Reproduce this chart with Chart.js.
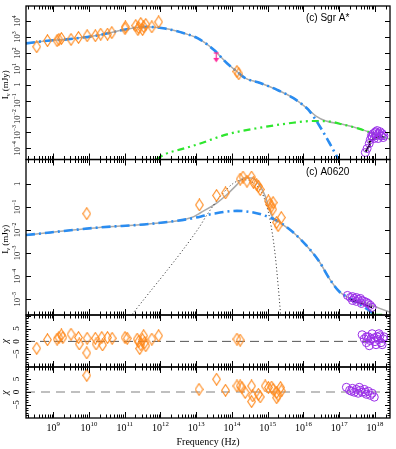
<!DOCTYPE html>
<html>
<head>
<meta charset="utf-8">
<script src="https://cdn.jsdelivr.net/npm/chart.js@4.4.1/dist/chart.umd.min.js"></script>
<style>
  html, body { margin: 0; padding: 0; background: #fff; }
</style>
</head>
<body>
<canvas id="sed" width="396" height="449"></canvas>
<script>
// valores en log10 (frecuencia en Hz, flujo en mJy)
const sgrRadioLogNu = [8.54, 8.84, 9.11, 9.16, 9.23, 9.50, 9.71, 9.95, 10.18, 10.33, 10.52, 10.64, 11.01, 11.02, 11.31, 11.39, 11.45, 11.53, 11.59, 11.50, 11.37, 11.76, 11.95];
const sgrRadioLogI  = [2.39, 2.77, 2.77, 2.85, 2.91, 2.85, 2.97, 3.08, 3.08, 3.18, 3.18, 3.28, 3.53, 3.64, 3.72, 3.60, 3.85, 3.66, 3.79, 3.47, 3.47, 3.64, 3.95];
const sgrIrLogNu = [14.14, 14.19];
const sgrIrLogI  = [0.83, 0.69];
const sgrLimitLogNu = [13.56];
const sgrLimitLogI  = [2.0];
const sgrXrayLogNu = [17.73, 17.78, 17.84, 17.87, 17.92, 17.95, 18.00, 18.03, 18.06, 18.11, 18.14, 18.17, 18.20, 18.23, 18.25, 18.09, 17.98, 17.90, 18.02];
const sgrXrayLogI  = [-4.26, -4.01, -3.69, -3.45, -3.26, -3.07, -3.01, -3.20, -2.88, -3.07, -2.95, -3.20, -3.07, -3.32, -3.20, -3.38, -3.38, -3.20, -2.95];
const sgrXmodelLogNu = [17.74, 17.85, 17.85, 18.01, 18.24];
const sgrXmodelLogI  = [-4.21, -3.84, -3.59, -3.32, -3.30];
const sgrTotalLogNu = [8.24, 8.84, 9.37, 10.29, 11.02, 11.58, 12.13, 12.68, 13.05, 13.50, 13.86, 14.14, 14.37, 14.79, 15.25, 15.71, 16.08, 16.35, 16.63, 17.09, 17.55, 18.01, 18.47];
const sgrTotalLogI  = [2.60, 2.77, 2.85, 3.12, 3.47, 3.64, 3.53, 3.22, 2.91, 2.18, 1.35, 0.83, 0.42, 0.11, -0.31, -0.83, -1.45, -1.97, -2.28, -2.49, -2.76, -3.12, -3.46];
const sgrJetLogNu = [8.24, 8.84, 9.37, 10.29, 11.02, 11.58, 12.13, 12.68, 13.05, 13.50, 13.86, 14.14, 14.37, 14.79, 15.25, 15.71, 16.08, 16.17, 16.45, 16.72, 16.95, 17.05];
const sgrJetLogI  = [2.60, 2.77, 2.85, 3.12, 3.47, 3.64, 3.53, 3.22, 2.91, 2.18, 1.35, 0.83, 0.42, 0.11, -0.31, -0.83, -1.45, -1.66, -2.59, -3.63, -4.57, -5.0];
const sgrAdafLogNu = [11.89, 12.13, 12.59, 13.05, 13.86, 14.79, 15.71, 16.26, 16.72, 17.09, 17.55, 18.01, 18.47];
const sgrAdafLogI  = [-4.69, -4.36, -4.05, -3.74, -3.12, -2.70, -2.39, -2.28, -2.31, -2.49, -2.76, -3.12, -3.46];

const a06OptLogNu = [9.94, 13.09, 13.57, 13.82, 14.23, 14.31, 14.42, 14.55, 14.60, 14.69, 14.74, 14.79, 15.02, 15.06, 15.11, 15.15, 15.14, 15.25, 15.29, 15.38];
const a06OptLogI  = [-1.29, -0.91, -0.50, -0.39, 0.21, 0.30, 0.12, 0.30, 0.07, -0.03, -0.10, -0.24, -0.74, -0.89, -0.96, -0.81, -1.10, -1.67, -1.81, -1.46];
const a06XrayLogNu = [17.23, 17.31, 17.37, 17.42, 17.48, 17.53, 17.59, 17.64, 17.70, 17.76, 17.81, 17.87, 17.92, 17.37, 17.48, 17.62];
const a06XrayLogI  = [-4.84, -4.93, -4.89, -4.97, -4.93, -5.01, -4.97, -5.06, -5.10, -5.14, -5.19, -5.27, -5.36, -5.06, -5.10, -5.19];
const a06XmodelLogNu = [17.28, 17.92];
const a06XmodelLogI  = [-5.00, -5.36];
const a06TotalLogNu = [8.24, 10.29, 11.67, 12.87, 13.13, 13.59, 13.86, 14.14, 14.33, 14.55, 14.79, 14.93, 15.11, 15.34, 15.71, 16.08, 16.45, 16.72, 17.00, 17.28, 17.74, 18.11, 18.47];
const a06TotalLogI  = [-2.22, -1.89, -1.74, -1.46, -1.24, -0.81, -0.46, -0.03, 0.26, 0.26, -0.10, -0.53, -1.38, -1.67, -2.10, -2.67, -3.39, -4.10, -4.67, -4.96, -5.17, -5.39, -5.60];
const a06JetLogNu = [8.24, 10.29, 11.67, 12.87, 13.40, 14.14, 14.69, 15.06, 15.34, 15.71, 16.08, 16.45, 16.72, 17.00, 17.28, 17.74, 17.92, 18.03];
const a06JetLogI  = [-2.22, -1.89, -1.74, -1.50, -1.32, -1.17, -1.27, -1.46, -1.67, -2.10, -2.67, -3.39, -4.10, -4.67, -4.96, -5.39, -5.60, -5.79];
const a06DiskLogNu = [11.21, 13.05, 13.31, 13.68, 14.05, 14.33, 14.60, 14.88, 15.06, 15.20, 15.29, 15.36];
const a06DiskLogI  = [-5.66, -1.96, -1.32, -0.53, 0.04, 0.18, 0.04, -0.53, -1.53, -2.96, -4.38, -5.66];
const a06HardLogNu = [17.87, 18.20];
const a06HardLogI  = [-5.68, -5.68];

// residuos chi
const sgrChiOptLogNu = [8.54, 8.84, 9.11, 9.16, 9.23, 9.27, 9.50, 9.71, 9.73, 9.95, 9.94, 10.18, 10.20, 10.36, 10.38, 10.52, 10.65, 11.01, 11.07, 11.35, 11.39, 11.45, 11.50, 11.56, 11.59, 11.42, 11.53, 11.76, 11.95, 14.14, 14.23];
const sgrChiOpt      = [-2.7, 0.65, 0.9, 1.5, 2.5, 1.5, 2.8, 1.5, -1.0, 1.2, -4.5, 1.2, -1.0, 1.5, -1.4, 1.5, 1.2, 1.5, 1.2, 0.9, -0.1, -1.3, 0.65, -0.5, -1.7, -2.8, 2.2, 0.9, 2.2, 0.9, 0.5];
const sgrChiXLogNu = [17.64, 17.70, 17.76, 17.81, 17.87, 17.92, 17.98, 18.03, 18.09, 18.14, 18.17, 18.23, 18.25, 18.00, 17.84, 18.11, 18.20, 17.76, 17.89, 18.06];
const sgrChiX      = [2.6, 1.0, -0.5, 1.8, 0.3, 3.0, 1.4, -1.3, 0.7, 2.2, -0.5, 1.0, 1.8, -0.1, -1.7, 3.0, -1.3, 1.8, 1.0, 1.8];
const a06ChiOptLogNu = [9.94, 13.08, 13.57, 13.82, 14.14, 14.23, 14.28, 14.37, 14.55, 14.58, 14.55, 14.74, 14.79, 14.93, 15.02, 15.11, 15.15, 15.25, 15.25, 15.29, 15.36, 15.38];
const a06ChiOpt      = [6.4, 1.0, 4.9, 0.65, 2.3, 2.3, 1.7, -0.2, 2.3, -1.5, -3.7, -0.9, -1.9, 2.3, 1.7, 1.9, 1.0, -0.2, -2.2, -1.2, 1.7, 0.4];
const a06ChiXLogNu = [17.20, 17.29, 17.37, 17.42, 17.48, 17.53, 17.59, 17.64, 17.70, 17.76, 17.81, 17.87, 17.92, 17.98, 17.34, 17.56, 17.73];
const a06ChiX      = [1.8, 0.65, 1.4, -0.1, 1.0, -0.5, 0.65, -0.1, 1.0, -0.9, 0.3, -1.3, -0.5, -2.0, 0.3, 1.8, -0.1];

// ejes
const xTickExp = [9, 10, 11, 12, 13, 14, 15, 16, 17, 18];
const sgrTickExp = [-4, -3, -2, -1, 0, 1, 2, 3, 4];
const a06TickExp = [-5, -4, -3, -2, -1, 0];
const chiTicks = [-5, 0, 5];

const ORANGE = '#ff8a1e', PURPLE = '#9a2ee8', BLUE = '#2a8cf0', GRAY = '#aaaaaa', GREEN = '#2ee62e';
const SERIF = '"Liberation Serif", "DejaVu Serif", serif';
const SANS = '"Liberation Sans", Arial, sans-serif';

// rombo alargado como pointStyle
function makeDiamond(color) {
  const c = document.createElement('canvas');
  c.width = 9; c.height = 13;
  const g = c.getContext('2d');
  g.strokeStyle = color; g.lineWidth = 1.1;
  g.beginPath();
  g.moveTo(4.5, 0.7); g.lineTo(8.3, 6.5); g.lineTo(4.5, 12.3); g.lineTo(0.7, 6.5); g.closePath();
  g.stroke();
  return c;
}
// flecha de límite superior
function makeArrow(color) {
  const c = document.createElement('canvas');
  c.width = 7; c.height = 20;
  const g = c.getContext('2d');
  g.strokeStyle = color; g.fillStyle = color; g.lineWidth = 1.2;
  g.beginPath(); g.moveTo(3.5, 10); g.lineTo(3.5, 17); g.stroke();
  g.beginPath(); g.moveTo(0.5, 15); g.lineTo(6.5, 15); g.lineTo(3.5, 19.5); g.closePath(); g.fill();
  g.beginPath(); g.moveTo(1, 10); g.lineTo(6, 10); g.stroke();
  return c;
}
const diamond = makeDiamond(ORANGE);
const arrow = makeArrow('#ff2a9a');

const logPts = (lx, ly) => lx.map((v, i) => ({x: Math.pow(10, v), y: Math.pow(10, ly[i])}));
const chiPts = (lx, ly) => lx.map((v, i) => ({x: Math.pow(10, v), y: ly[i]}));

const xMin = Math.pow(10, 8.24), xMax = Math.pow(10, 18.42);

function pointsSet(data, yAxisID, style, color, r) {
  return {data, yAxisID, pointStyle: style, pointRadius: r, pointBorderColor: color,
    pointBackgroundColor: 'rgba(0,0,0,0)', pointBorderWidth: 1, showLine: false, order: 1};
}
function lineSet(data, yAxisID, color, width, dash, order) {
  return {data, yAxisID, showLine: true, borderColor: color, borderWidth: width,
    borderDash: dash, pointRadius: 0, tension: 0.35, cubicInterpolationMode: 'monotone', order};
}

const datasets = [
  // Sgr A*
  pointsSet(logPts(sgrRadioLogNu, sgrRadioLogI), 'ySgr', diamond, ORANGE, 5),
  pointsSet(logPts(sgrIrLogNu, sgrIrLogI), 'ySgr', diamond, ORANGE, 5),
  pointsSet(logPts(sgrLimitLogNu, sgrLimitLogI), 'ySgr', arrow, '#ff2a9a', 5),
  pointsSet(logPts(sgrXrayLogNu, sgrXrayLogI), 'ySgr', 'circle', PURPLE, 4),
  lineSet(logPts(sgrXmodelLogNu, sgrXmodelLogI), 'ySgr', '#000', 2, [], 2),
  lineSet(logPts(sgrJetLogNu, sgrJetLogI), 'ySgr', BLUE, 2.6, [9, 4, 2, 4], 3),
  lineSet(logPts(sgrAdafLogNu, sgrAdafLogI), 'ySgr', GREEN, 2.2, [7, 4, 2, 4, 2, 4], 3),
  lineSet(logPts(sgrTotalLogNu, sgrTotalLogI), 'ySgr', GRAY, 1.5, [], 5),
  // A0620
  pointsSet(logPts(a06OptLogNu, a06OptLogI), 'yA06', diamond, ORANGE, 5),
  pointsSet(logPts(a06XrayLogNu, a06XrayLogI), 'yA06', 'circle', PURPLE, 4),
  lineSet(logPts(a06XmodelLogNu, a06XmodelLogI), 'yA06', '#000', 2, [], 2),
  lineSet(logPts(a06HardLogNu, a06HardLogI), 'yA06', GREEN, 2.2, [], 3),
  lineSet(logPts(a06JetLogNu, a06JetLogI), 'yA06', BLUE, 2.6, [9, 4, 2, 4], 3),
  lineSet(logPts(a06DiskLogNu, a06DiskLogI), 'yA06', '#222', 1, [1, 2.5], 4),
  lineSet(logPts(a06TotalLogNu, a06TotalLogI), 'yA06', GRAY, 1.5, [], 5),
  // chi
  pointsSet(chiPts(sgrChiOptLogNu, sgrChiOpt), 'yChi1', diamond, ORANGE, 5),
  pointsSet(chiPts(sgrChiXLogNu, sgrChiX), 'yChi1', 'circle', PURPLE, 4),
  lineSet([{x: xMin, y: 0}, {x: xMax, y: 0}], 'yChi1', '#555', 1, [9, 5], 6),
  pointsSet(chiPts(a06ChiOptLogNu, a06ChiOpt), 'yChi2', diamond, ORANGE, 5),
  pointsSet(chiPts(a06ChiXLogNu, a06ChiX), 'yChi2', 'circle', PURPLE, 4),
  lineSet([{x: xMin, y: 0}, {x: xMax, y: 0}], 'yChi2', '#aaa', 1.6, [9, 6], 6)
];

// "10^exp" con superíndice; rot en radianes
function drawPow(ctx, x, y, exp, size, rot) {
  ctx.save();
  ctx.translate(x, y);
  ctx.rotate(rot);
  ctx.textBaseline = 'middle';
  ctx.textAlign = 'left';
  if (exp === 0) {
    ctx.font = size + 'px ' + SERIF;
    const w = ctx.measureText('1').width;
    ctx.fillText('1', -w / 2, 0);
  } else {
    const sup = exp < 0 ? '\u2212' + (-exp) : String(exp);
    const small = (size * 0.68).toFixed(1) + 'px ' + SERIF;
    ctx.font = size + 'px ' + SERIF;
    const wb = ctx.measureText('10').width;
    ctx.font = small;
    const ws = ctx.measureText(sup).width;
    const x0 = -(wb + ws) / 2;
    ctx.font = size + 'px ' + SERIF;
    ctx.fillText('10', x0, 0);
    ctx.font = small;
    ctx.fillText(sup, x0 + wb, -size * 0.38);
  }
  ctx.restore();
}

function seg(ctx, x1, y1, x2, y2) {
  ctx.beginPath(); ctx.moveTo(x1, y1); ctx.lineTo(x2, y2); ctx.stroke();
}

const panelIds = ['ySgr', 'yA06', 'yChi1', 'yChi2'];

const framePlugin = {
  id: 'frame',
  afterDatasetsDraw(chart) {
    const ctx = chart.ctx;
    const xs = chart.scales.x;
    const L = chart.chartArea.left, R = chart.chartArea.right;
    ctx.save();
    ctx.strokeStyle = '#000';
    ctx.lineWidth = 1;
    panelIds.forEach((id) => {
      const s = chart.scales[id];
      // marcas del eje x, arriba y abajo de cada panel
      for (let e = 8; e <= 18; e++) {
        for (let m = 1; m <= 9; m++) {
          const v = m * Math.pow(10, e);
          if (v < xs.min || v > xs.max) continue;
          const px = Math.round(xs.getPixelForValue(v)) + 0.5;
          const len = m === 1 ? 6 : 3.5;
          seg(ctx, px, s.top, px, s.top + len);
          seg(ctx, px, s.bottom, px, s.bottom - len);
        }
      }
      // marcas del eje y
      const yt = [];
      if (s.type === 'logarithmic') {
        const exps = id === 'ySgr' ? sgrTickExp : a06TickExp;
        exps.forEach((e) => yt.push([Math.pow(10, e), 5]));
      } else {
        for (let v = Math.ceil(s.min); v <= s.max; v++) yt.push([v, v % 5 === 0 ? 5 : 2.5]);
      }
      yt.forEach(([v, len]) => {
        const py = Math.round(s.getPixelForValue(v)) + 0.5;
        if (py < s.top + 1 || py > s.bottom - 1) return;
        seg(ctx, L, py, L + len, py);
        seg(ctx, R, py, R - len, py);
      });
      ctx.lineWidth = 1.3;
      ctx.strokeRect(L, s.top, R - L, s.bottom - s.top);
      ctx.lineWidth = 1;
    });

    // etiquetas
    ctx.fillStyle = '#000';
    const up = -Math.PI / 2;
    const sSgr = chart.scales.ySgr, sA = chart.scales.yA06;
    sgrTickExp.forEach((e) => drawPow(ctx, 17.5, sSgr.getPixelForValue(Math.pow(10, e)), e, 8.5, up));
    a06TickExp.forEach((e) => drawPow(ctx, 17.5, sA.getPixelForValue(Math.pow(10, e)), e, 8.5, up));
    ['yChi1', 'yChi2'].forEach((id) => {
      const s = chart.scales[id];
      chiTicks.forEach((v) => {
        ctx.save();
        ctx.translate(16.5, s.getPixelForValue(v));
        ctx.rotate(up);
        ctx.font = '9px ' + SERIF;
        ctx.textAlign = 'center';
        ctx.textBaseline = 'middle';
        ctx.fillText(v < 0 ? '\u2212' + (-v) : String(v), 0, 0);
        ctx.restore();
      });
      ctx.save();
      ctx.translate(5.5, (s.top + s.bottom) / 2);
      ctx.rotate(up);
      ctx.font = 'italic 10px ' + SERIF;
      ctx.textAlign = 'center';
      ctx.textBaseline = 'middle';
      ctx.fillText('\u03c7', 0, 0);
      ctx.restore();
    });
    // títulos I_nu (mJy)
    [sSgr, sA].forEach((s) => {
      ctx.save();
      ctx.translate(5.5, (s.top + s.bottom) / 2 + 2);
      ctx.rotate(up);
      ctx.textBaseline = 'middle';
      ctx.font = '9px ' + SERIF;
      const wI = ctx.measureText('I').width;
      const rest = ' (mJy)';
      const wR = ctx.measureText(rest).width;
      ctx.font = '6px ' + SERIF;
      const wN = ctx.measureText('\u03bd').width;
      let x0 = -(wI + wN + wR) / 2;
      ctx.font = '9px ' + SERIF;
      ctx.fillText('I', x0, 0);
      ctx.font = '6px ' + SERIF;
      ctx.fillText('\u03bd', x0 + wI, 2.5);
      ctx.font = '9px ' + SERIF;
      ctx.fillText(rest, x0 + wI + wN, 0);
      ctx.restore();
    });
    // eje x
    xTickExp.forEach((e) => drawPow(ctx, xs.getPixelForValue(Math.pow(10, e)), 428, e, 10, 0));
    ctx.font = '10px ' + SERIF;
    ctx.textAlign = 'center';
    ctx.textBaseline = 'middle';
    ctx.fillText('Frequency (Hz)', (L + R) / 2, 442);
    // nombres de las fuentes
    ctx.font = '10px ' + SANS;
    ctx.textAlign = 'left';
    ctx.fillText('(c) Sgr A*', 306, 18);
    ctx.fillText('(c) A0620', 306, 172);
    ctx.restore();
  }
};

const fixedWidth = (s) => { s.width = 26; };
const hiddenY = {ticks: {display: false}, grid: {display: false}, border: {display: false}, afterFit: fixedWidth};

const chart = new Chart(document.getElementById('sed'), {
  type: 'scatter',
  data: {datasets},
  options: {
    responsive: false,
    animation: false,
    events: [],
    layout: {padding: {left: 0, right: 2, top: 2, bottom: 31}},
    plugins: {legend: {display: false}, tooltip: {enabled: false}},
    scales: {
      x: {type: 'logarithmic', min: xMin, max: xMax, display: false},
      ySgr: Object.assign({type: 'logarithmic', position: 'left', stack: 'sed', stackWeight: 155, weight: 4,
        min: Math.pow(10, -4.7), max: Math.pow(10, 4.95)}, hiddenY),
      yA06: Object.assign({type: 'logarithmic', position: 'left', stack: 'sed', stackWeight: 157, weight: 3,
        min: Math.pow(10, -5.69), max: Math.pow(10, 1.06)}, hiddenY),
      yChi1: Object.assign({type: 'linear', position: 'left', stack: 'sed', stackWeight: 52.5, weight: 2,
        min: -10, max: 10.3}, hiddenY),
      yChi2: Object.assign({type: 'linear', position: 'left', stack: 'sed', stackWeight: 51.5, weight: 1,
        min: -10, max: 9.6}, hiddenY)
    }
  },
  plugins: [framePlugin]
});
</script>
</body>
</html>
